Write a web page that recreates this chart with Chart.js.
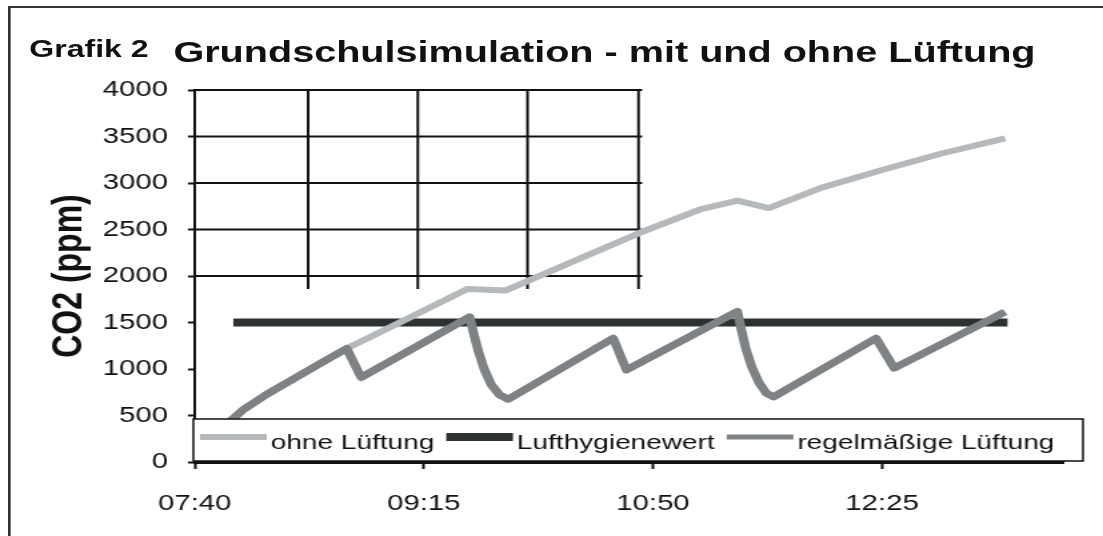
<!DOCTYPE html>
<html>
<head>
<meta charset="utf-8">
<script src="https://cdn.jsdelivr.net/npm/chart.js@4.4.0/dist/chart.umd.min.js"></script>
<style>
    html, body { margin: 0; padding: 0; background: #fff; overflow: hidden; }
    /* the source picture is a 4:3 chart shown stretched to 16:9, so the whole page is stretched the same way */
    #page {
        position: absolute; left: 0; top: 0;
        width: 827px; height: 536px;
        transform: scaleX(1.3337); transform-origin: 0 0;
        font-family: 'Liberation Sans', Arial, sans-serif;
    }
    #frame {
        position: absolute; left: 6px; top: 6px; right: -10px; bottom: -10px;
        border-top: 2px solid #333; border-left: 2px solid #333;
    }
    .t { position: absolute; font-weight: bold; line-height: 1; white-space: nowrap; color: #111; }
    #tag   { left: 22px;  top: 37px; font-size: 24px; }
    #title { left: 130px; top: 37px; font-size: 29.7px; }
    canvas { position: absolute; left: 0; top: 0; }
</style>
</head>
<body>
<div id="page">
    <div id="frame"></div>
    <div class="t" id="tag">Grafik 2</div>
    <div class="t" id="title">Grundschulsimulation - mit und ohne Lüftung</div>
    <canvas id="chart" width="827" height="536" style="width:827px;height:536px"></canvas>
</div>
<script>
const START_TIME    = '07:40';
const X_TICK_LABELS = ['07:40', '09:15', '10:50', '12:25'];
const X_MAX_MIN     = 360;               // axis runs to 13:40
const Y_TICKS       = [0, 500, 1000, 1500, 2000, 2500, 3000, 3500, 4000];

// minutes after 07:40 / CO2 in ppm
const OHNE_MIN  = [13, 20, 30, 40, 52, 63, 85, 113, 129, 150, 185, 210, 225, 238, 260, 285, 310, 336];
const OHNE_PPM  = [400, 560, 730, 880, 1060, 1220, 1500, 1860, 1845, 2080, 2470, 2720, 2810, 2730, 2950, 3140, 3320, 3480];

const REGEL_MIN = [13, 20, 30, 40, 52, 63, 69,
                   114, 115.5, 117.5, 120, 123, 126.5, 130, 173.5, 179,
                   225, 226.5, 228.5, 231, 234, 237, 240, 282.5, 290, 336];
const REGEL_PPM = [400, 560, 730, 880, 1060, 1220, 910,
                   1560, 1400, 1200, 1000, 830, 720, 675, 1330, 990,
                   1620, 1440, 1220, 1020, 850, 740, 700, 1330, 1010, 1615];

const GRENZ_MIN = [16, 337];
const GRENZ_PPM = [1500, 1500];

// leftover grid in the upper left of the original picture
const GRID_X_MIN = [47, 92.5, 138, 184];
const GRID_X_END = 185.5;
const GRID_Y_PPM = [2000, 2500, 3000, 3500, 4000];
const GRID_Y_LOW = 1860;

function toMin(hhmm) {
    const [h, m]   = hhmm.split(':').map(Number);
    const [h0, m0] = START_TIME.split(':').map(Number);
    return (h * 60 + m) - (h0 * 60 + m0);
}

function pts(xs, ys) {
    return xs.map((x, i) => ({ x, y: ys[i] }));
}

const INK = '#111';

const gridBox = {
    id: 'gridBox',
    beforeDatasetsDraw(chart) {
        const { ctx, scales: { x, y } } = chart;
        ctx.save();
        ctx.strokeStyle = INK;
        ctx.lineWidth = 2;
        ctx.beginPath();
        GRID_Y_PPM.forEach(v => {
            const py = y.getPixelForValue(v);
            ctx.moveTo(x.getPixelForValue(0), py);
            ctx.lineTo(x.getPixelForValue(GRID_X_END), py);
        });
        GRID_X_MIN.forEach(m => {
            const px = x.getPixelForValue(m);
            ctx.moveTo(px, y.getPixelForValue(4000));
            ctx.lineTo(px, y.getPixelForValue(GRID_Y_LOW));
        });
        ctx.stroke();
        ctx.restore();
    }
};

const boxLegend = {
    id: 'boxLegend',
    afterDatasetsDraw(chart) {
        const { ctx, chartArea: a } = chart;
        const left = a.left - 1, right = a.right + 15;
        const top = a.bottom - 43, bottom = a.bottom - 1;
        ctx.save();
        ctx.fillStyle = '#fff';
        ctx.fillRect(left, top, right - left, bottom - top);
        ctx.strokeStyle = INK;
        ctx.lineWidth = 1.5;
        ctx.strokeRect(left, top, right - left, bottom - top);

        ctx.font = '21px "Liberation Sans", Arial, sans-serif';
        ctx.textBaseline = 'alphabetic';
        ctx.fillStyle = INK;
        let cx = left + 5;
        chart.data.datasets.forEach(ds => {
            ctx.strokeStyle = ds.borderColor;
            ctx.lineWidth = ds.legendWidth;
            ctx.beginPath();
            ctx.moveTo(cx, top + 18);
            ctx.lineTo(cx + 50, top + 18);
            ctx.stroke();
            cx += 53;
            ctx.fillText(ds.label, cx, top + 30);
            cx += ctx.measureText(ds.label).width + 9;
        });
        ctx.restore();
    }
};

new Chart(document.getElementById('chart').getContext('2d'), {
    type: 'line',
    data: {
        datasets: [
            {
                label: 'ohne Lüftung',
                data: pts(OHNE_MIN, OHNE_PPM),
                borderColor: '#b5b9bb',
                borderWidth: 6,
                legendWidth: 6,
                order: 1,
            },
            {
                label: 'Lufthygienewert',
                data: pts(GRENZ_MIN, GRENZ_PPM),
                borderColor: '#2d3231',
                borderWidth: 8,
                legendWidth: 8,
                order: 2,
            },
            {
                label: 'regelmäßige Lüftung',
                data: pts(REGEL_MIN, REGEL_PPM),
                borderColor: '#7e8284',
                borderWidth: 7,
                legendWidth: 5,
                order: 0,
            },
        ],
    },
    options: {
        responsive: false,
        animation: false,
        events: [],
        layout: { padding: { left: 0, top: 90, right: 30, bottom: 0 } },
        elements: {
            point: { radius: 0 },
            line:  { tension: 0, borderJoinStyle: 'round', borderCapStyle: 'butt', fill: false },
        },
        plugins: {
            legend:  { display: false },
            tooltip: { enabled: false },
        },
        scales: {
            x: {
                type: 'linear',
                min: 0,
                max: X_MAX_MIN,
                afterBuildTicks: axis => {
                    axis.ticks = X_TICK_LABELS.map(l => ({ value: toMin(l) }));
                },
                afterFit: s => { s.height = 74; },
                ticks: {
                    autoSkip: false,
                    maxRotation: 0,
                    color: INK,
                    padding: 22,
                    font: { size: 22, family: '"Liberation Sans", Arial, sans-serif' },
                    callback: (v, i) => X_TICK_LABELS[i],
                },
                grid:   { drawOnChartArea: false, tickLength: 7, tickWidth: 2, tickColor: INK },
                border: { display: true, color: INK, width: 3 },
            },
            y: {
                min: 0,
                max: 4000,
                afterBuildTicks: axis => {
                    axis.ticks = Y_TICKS.map(v => ({ value: v }));
                },
                afterFit: s => { s.width = 146; },
                ticks: {
                    color: INK,
                    padding: 15,
                    font: { size: 22, family: '"Liberation Sans", Arial, sans-serif' },
                    callback: v => String(v),
                },
                grid:   { drawOnChartArea: false, tickLength: 5, tickWidth: 2, tickColor: INK },
                border: { display: true, color: INK, width: 2 },
                title: {
                    display: true,
                    text: 'CO2 (ppm)',
                    color: INK,
                    padding: { top: 33, bottom: 0 },
                    font: { size: 32, weight: 'bold', family: '"Liberation Sans", Arial, sans-serif' },
                },
            },
        },
    },
    plugins: [gridBox, boxLegend],
});
</script>
</body>
</html>
